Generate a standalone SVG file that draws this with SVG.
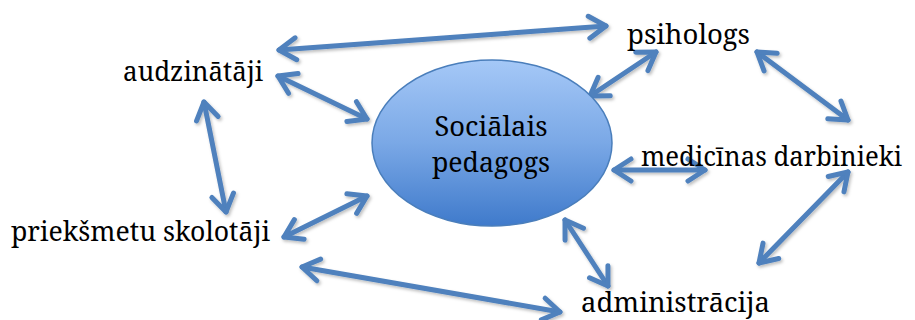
<svg xmlns="http://www.w3.org/2000/svg" width="915" height="320" viewBox="0 0 915 320">
<style>
text{font-family:'Noto Serif','DejaVu Serif',serif;font-size:27.5px;fill:#000}
.c{fill:none;stroke:#4f81bd;stroke-width:5;stroke-linecap:round;marker-start:url(#ah);marker-end:url(#ah)}
</style>
<defs>
<linearGradient id="g" x1="0" y1="0" x2="0" y2="1">
<stop offset="0" stop-color="#a5c8f7"/>
<stop offset="0.5" stop-color="#7aa8e6"/>
<stop offset="1" stop-color="#3f7acb"/>
</linearGradient>
<marker id="ah" markerUnits="userSpaceOnUse" markerWidth="40" markerHeight="40" viewBox="-25 -20 30 40" refX="0" refY="0" orient="auto-start-reverse" overflow="visible">
<path d="M-17,-11 L0,0 L-17,11" fill="none" stroke="#4f81bd" stroke-width="5" stroke-linecap="round" stroke-linejoin="round"/>
</marker>
<filter id="sh" x="-10%" y="-10%" width="130%" height="130%">
<feDropShadow dx="1.5" dy="2" stdDeviation="1.5" flood-color="#000" flood-opacity="0.25"/>
</filter>
</defs>
<g id="connectors" filter="url(#sh)">
<line class="c" x1="279" y1="50" x2="606" y2="26"/>
<line class="c" x1="278" y1="76" x2="367" y2="119"/>
<line class="c" x1="204" y1="102" x2="226" y2="212"/>
<line class="c" x1="284" y1="237" x2="367" y2="196"/>
<line class="c" x1="590" y1="96" x2="656" y2="52"/>
<line class="c" x1="757" y1="52" x2="848" y2="120"/>
<line class="c" x1="614" y1="170" x2="705" y2="170"/>
<line class="c" x1="848" y1="172" x2="759" y2="263"/>
<line class="c" x1="565" y1="220" x2="608" y2="286"/>
<line class="c" x1="302" y1="267" x2="560" y2="312"/>
</g>
<g id="center">
<ellipse cx="492" cy="143" rx="120" ry="83" fill="url(#g)" stroke="#4a7ebb" stroke-width="1.5"/>
<text x="491" y="136" text-anchor="middle" textLength="113" lengthAdjust="spacingAndGlyphs">Sociālais</text>
<text x="491" y="172" text-anchor="middle" textLength="118" lengthAdjust="spacingAndGlyphs">pedagogs</text>
</g>
<g id="psihologs"><text x="627" y="44" textLength="123" lengthAdjust="spacingAndGlyphs">psihologs</text></g>
<g id="audzinataji"><text x="123" y="81" textLength="140" lengthAdjust="spacingAndGlyphs">audzinātāji</text></g>
<g id="medicinas"><text x="641" y="166" font-size="25" textLength="261" lengthAdjust="spacingAndGlyphs">medicīnas darbinieki</text></g>
<g id="prieksmetu"><text x="11" y="241" textLength="259" lengthAdjust="spacingAndGlyphs">priekšmetu skolotāji</text></g>
<g id="administracija"><text x="581" y="312" textLength="189" lengthAdjust="spacingAndGlyphs">administrācija</text></g>
</svg>
